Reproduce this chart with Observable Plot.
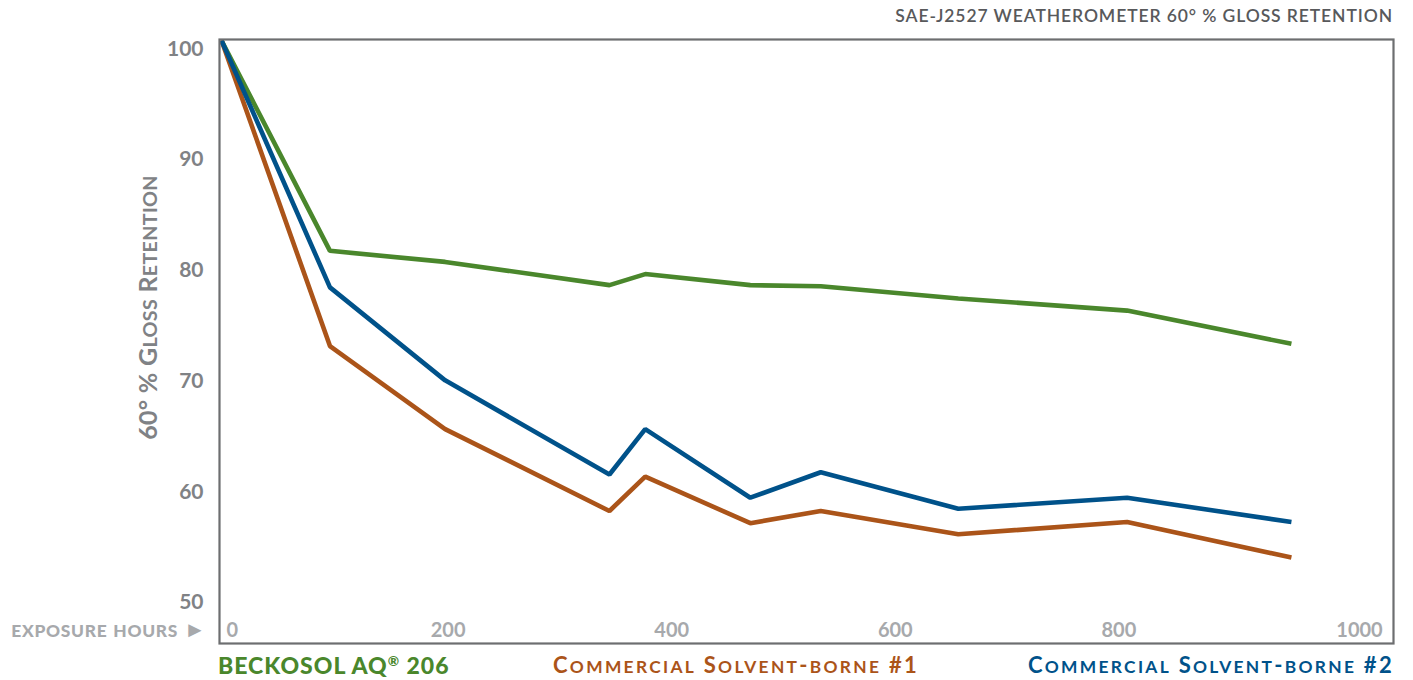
<!DOCTYPE html>
<html>
<head>
<meta charset="utf-8">
<script src="https://cdn.jsdelivr.net/npm/d3@7"></script>
<script src="https://cdn.jsdelivr.net/npm/@observablehq/plot@0.6"></script>
<style>
  html, body { margin: 0; padding: 0; background: #fff; }
  body { width: 1413px; height: 680px; overflow: hidden; font-family: Lato, "Open Sans", sans-serif; }
  #title { height: 32px; line-height: 32px; text-align: right; padding-right: 20px; font-size: 17.5px; font-weight: 600; color: #58595b; letter-spacing: 0.9px; }
  #chart svg { display: block; }
  #legend { position: relative; height: 30px; }
  #legend span.item { position: absolute; top: 0; line-height: 30px; white-space: nowrap; }
</style>
</head>
<body>
<div id="title">SAE-J2527 WEATHEROMETER 60° % GLOSS RETENTION</div>
<div id="chart"></div>
<div id="legend"></div>
<script>
// Exposure hours (x) shared by all series
const hours = [0, 97, 200, 347, 379, 473, 536, 659, 810, 957];
// 60° % gloss retention per series
const beckosol = [100, 81.0, 80.0, 77.9, 78.9, 77.9, 77.8, 76.7, 75.6, 72.6];
const solvent1 = [100, 72.4, 64.9, 57.5, 60.6, 56.4, 57.5, 55.4, 56.5, 53.3];
const solvent2 = [100, 77.7, 69.3, 60.8, 64.9, 58.7, 61.0, 57.7, 58.7, 56.5];
const seriesNames = ["BECKOSOL AQ® 206", "Commercial Solvent-borne #1", "Commercial Solvent-borne #2"];
const seriesColors = ["#4a872c", "#ab5419", "#00528a"];
const yTicks = [50, 60, 70, 80, 90, 100];
const xTicksMid = [200, 400, 600, 800];
const yTitle = "60° % Gloss Retention";
const xTitle = "exposure hours ►";

const seriesValues = [beckosol, solvent1, solvent2];
const rows = seriesNames.flatMap((name, i) => hours.map((h, j) => ({series: name, hours: h, gloss: seriesValues[i][j]})));

// split text into runs: lowercase runs become small caps
function runs(str) {
  const out = [];
  for (const ch of str) {
    const small = /[a-z]/.test(ch);
    if (out.length && out[out.length - 1].small === small) out[out.length - 1].t += ch;
    else out.push({t: ch, small});
  }
  return out;
}

const fmt = d => String(d);
const chart = Plot.plot({
  width: 1413,
  height: 618,
  marginTop: 7,
  marginBottom: 7,
  marginLeft: 219,
  marginRight: 20,
  style: {fontFamily: "Lato, 'Open Sans', sans-serif", background: "#fff"},
  x: {domain: [-1.8, 1048.3]},
  y: {domain: [45.53, 100.09]},
  color: {domain: seriesNames, range: seriesColors},
  marks: [
    Plot.line(rows, {x: "hours", y: "gloss", z: "series", stroke: "series", strokeWidth: 4.6, strokeLinejoin: "miter", strokeLinecap: "butt"}),
    Plot.frame({stroke: "#6d6e70", strokeWidth: 2.2}),
    Plot.axisY(yTicks, {anchor: "left", tickSize: 0, tickPadding: 16, dy: 8.5, fontSize: 21, fontWeight: 700, fill: "#808285", label: null, tickFormat: fmt}),
    Plot.axisX(xTicksMid, {anchor: "bottom", tickSize: 0, tickPadding: 0, dy: -21, dx: 3, fontSize: 20, fontWeight: 700, fill: "#a7a9ac", label: null, tickFormat: fmt}),
    Plot.axisX([0], {anchor: "bottom", tickSize: 0, tickPadding: 0, dy: -21, dx: 5, textAnchor: "start", fontSize: 20, fontWeight: 700, fill: "#a7a9ac", label: null, tickFormat: fmt}),
    Plot.axisX([1000], {anchor: "bottom", tickSize: 0, tickPadding: 0, dy: -21, dx: 20, fontSize: 20, fontWeight: 700, fill: "#a7a9ac", label: null, tickFormat: fmt}),
    Plot.text([xTitle], {frameAnchor: "bottom-left", textAnchor: "end", lineAnchor: "middle", dx: -13, dy: -14, fontSize: 22, fontWeight: 900, fill: "#a7a9ac"}),
    Plot.text([yTitle], {frameAnchor: "left", rotate: -90, textAnchor: "middle", lineAnchor: "middle", dx: -71, dy: -34, fontSize: 25, fontWeight: 700, fill: "#808285"})
  ]
});

// apply small caps as tspans (keeps real text)
function svgSmallCaps(textEl, str, ratio, spacing) {
  const sel = d3.select(textEl);
  sel.text(null);
  if (spacing) sel.style("letter-spacing", spacing + "px");
  for (const r of runs(str)) {
    const ts = sel.append("tspan").text(r.small ? r.t.toUpperCase() : r.t);
    if (r.small) ts.attr("font-size", (ratio * 100) + "%");
  }
}
chart.querySelectorAll("text").forEach(t => {
  if (t.textContent === yTitle) svgSmallCaps(t, yTitle, 0.79, 0.3);
  if (t.textContent === xTitle) svgSmallCaps(t, xTitle, 0.79, 0.7);
});
document.getElementById("chart").appendChild(chart);

const legend = document.getElementById("legend");
const items = [
  {style: "left:218px;font-weight:900;font-size:23px;letter-spacing:1px;"},
  {style: "left:553px;font-weight:700;font-size:22px;letter-spacing:2.3px;"},
  {style: "right:19px;font-weight:700;font-size:22px;letter-spacing:2.3px;"}
];
items.forEach((it, i) => {
  const s = document.createElement("span");
  s.className = "item";
  s.setAttribute("style", it.style + "color:" + seriesColors[i] + ";");
  if (i === 0) {
    const [pre, post] = seriesNames[0].split("®");
    s.appendChild(document.createTextNode(pre));
    const sup = document.createElement("span");
    sup.textContent = "®";
    sup.setAttribute("style", "font-size:0.6em;position:relative;top:-0.6em;");
    s.appendChild(sup);
    s.appendChild(document.createTextNode(post));
  } else {
    for (const r of runs(seriesNames[i])) {
      const sp = document.createElement("span");
      sp.textContent = r.small ? r.t.toUpperCase() : r.t;
      if (r.small) sp.style.fontSize = "0.79em";
      s.appendChild(sp);
    }
  }
  legend.appendChild(s);
});
</script>
</body>
</html>
